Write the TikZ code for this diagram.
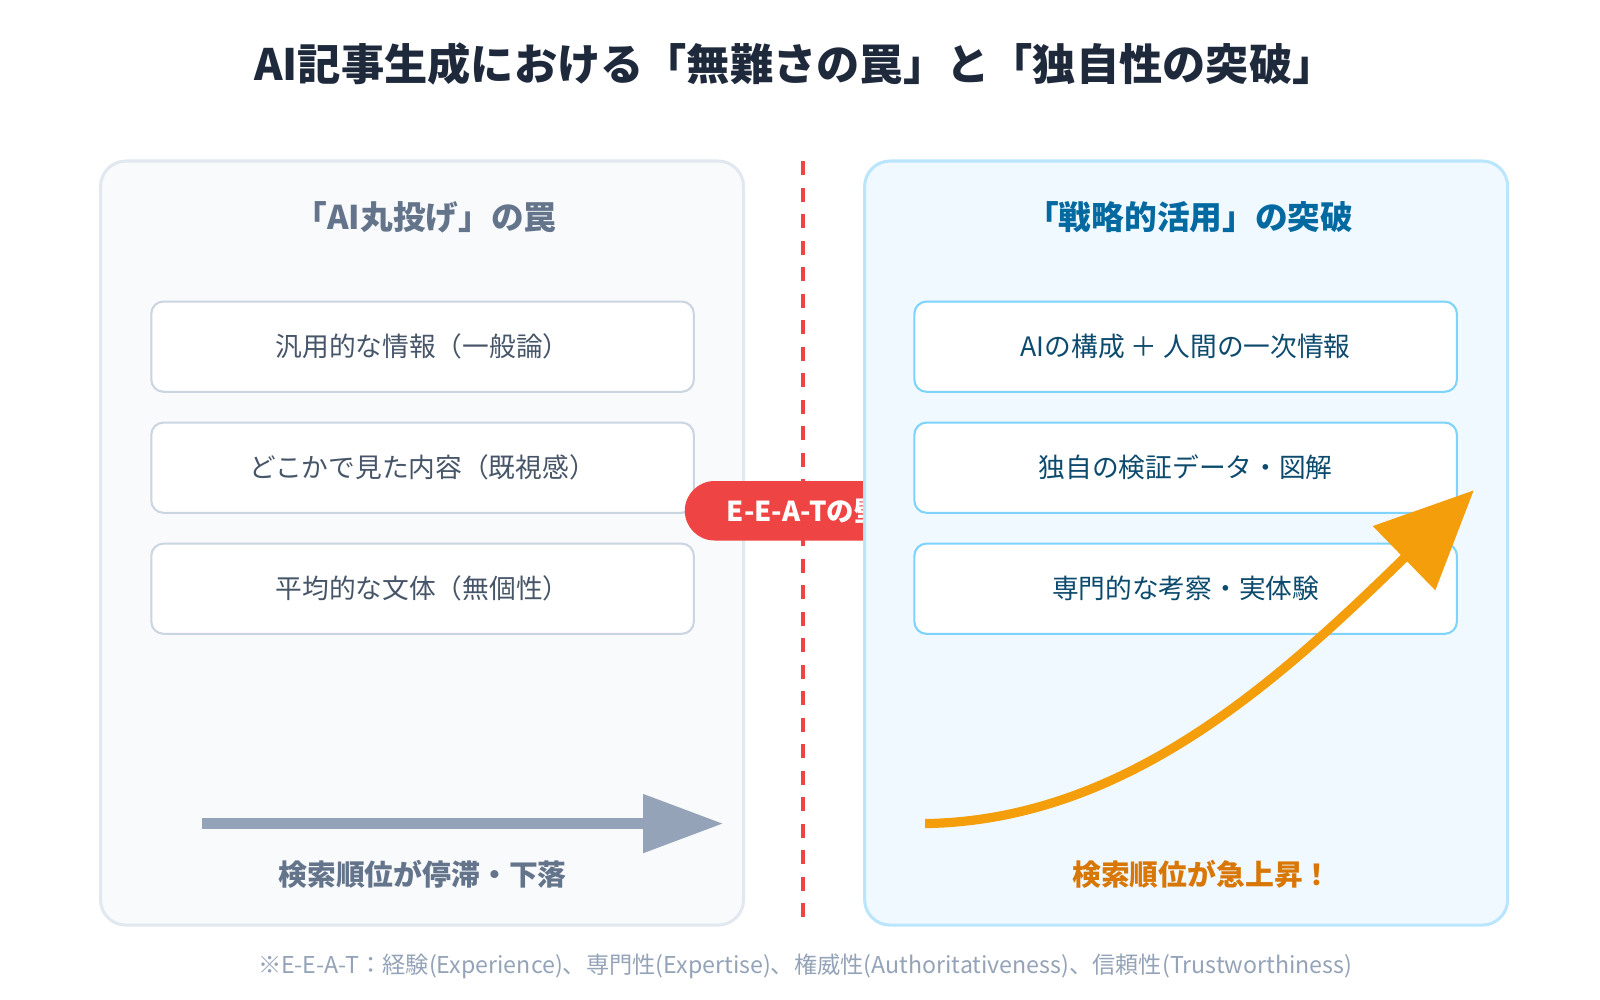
\documentclass[tikz,border=0pt]{standalone}
\usepackage{fontspec}
\setmainfont{Noto Sans CJK JP}
\usetikzlibrary{arrows.meta}
\definecolor{navy}{HTML}{1E293B}
\definecolor{slate}{HTML}{64748B}
\definecolor{slatetext}{HTML}{475569}
\definecolor{pale}{HTML}{F8FAFC}
\definecolor{paleline}{HTML}{E2E8F0}
\definecolor{boxline}{HTML}{CBD5E1}
\definecolor{skyfill}{HTML}{F0F9FF}
\definecolor{skyline}{HTML}{BAE6FD}
\definecolor{skybox}{HTML}{7DD3FC}
\definecolor{skytext}{HTML}{0C4A6E}
\definecolor{skyhead}{HTML}{0369A1}
\definecolor{wallred}{HTML}{EF4444}
\definecolor{arrowgray}{HTML}{94A3B8}
\definecolor{amber}{HTML}{F59E0B}
\definecolor{amberdark}{HTML}{D97706}
\tikzset{
  panel/.style={rounded corners=25pt*0.29, line width=3pt*0.29},
  item/.style={draw, fill=white, rounded corners=12pt*0.29, line width=2pt*0.29,
    minimum width=529*0.01026cm, minimum height=88*0.01026cm,
    font=\fontsize{7.6}{9}\selectfont},
  head/.style={font=\fontsize{9.3}{11}\selectfont\bfseries},
  caption/.style={font=\fontsize{8.2}{10}\selectfont\bfseries}
}
\begin{document}
\begin{tikzpicture}[x=0.01026cm,y=-0.01026cm]
\useasboundingbox (0,0) rectangle (1560,975);

% title
\node[text=navy, font=\fontsize{12.3}{15}\selectfont\bfseries] (title) at (775,62)
  {AI記事生成における「無難さの罠」と「独自性の突破」};

% left panel
\draw[panel, fill=pale, draw=paleline] (98,157) rectangle (725,902);
\node[head, text=slate] (lhead) at (415,212) {「AI丸投げ」の罠};
\node[item, draw=boxline, text=slatetext] (l1) at (412,338) {汎用的な情報（一般論）};
\node[item, draw=boxline, text=slatetext] (l2) at (412,456) {どこかで見た内容（既視感）};
\node[item, draw=boxline, text=slatetext] (l3) at (412,574) {平均的な文体（無個性）};
\coordinate (gs) at (197,803);
\coordinate (ge) at (705,803);
\draw[arrowgray, line width=10pt*0.29, -{Triangle[length=78*0.01026cm, width=55*0.01026cm]}] (gs) -- (ge);
\node[caption, text=slate] (lcap) at (412,852) {検索順位が停滞・下落};

% wall
\draw[wallred, line width=4pt*0.29, dash pattern=on 14pt*0.29 off 12pt*0.29] (783,157) -- (783,902);
\node[fill=wallred, text=white, rounded corners=29*0.01026cm, minimum width=234*0.01026cm,
  minimum height=58*0.01026cm, anchor=west, font=\fontsize{7.8}{9}\selectfont\bfseries,
  text width=190*0.01026cm, align=left, inner xsep=41*0.01026cm] (wall) at (667,498) {E-E-A-Tの壁};

% right panel
\draw[panel, fill=skyfill, draw=skyline] (843,157) rectangle (1470,902);
\node[head, text=skyhead] (rhead) at (1160,212) {「戦略的活用」の突破};
\node[item, draw=skybox, text=skytext] (r1) at (1156,338) {AIの構成 ＋ 人間の一次情報};
\node[item, draw=skybox, text=skytext] (r2) at (1156,456) {独自の検証データ・図解};
\node[item, draw=skybox, text=skytext] (r3) at (1156,574) {専門的な考察・実体験};
\coordinate (os) at (902,803);
\coordinate (oe) at (1437,478);
\draw[amber, line width=9pt*0.29, -{Triangle[length=95*0.01026cm, width=85*0.01026cm]}]
  (os) .. controls (1100,800) and (1250,660) .. (oe);
\node[caption, text=amberdark] (rcap) at (1172,852) {検索順位が急上昇！};

% note
\node[text=arrowgray, font=\fontsize{6.6}{8}\selectfont] (note) at (785,942)
  {※E-E-A-T：経験(Experience)、専門性(Expertise)、権威性(Authoritativeness)、信頼性(Trustworthiness)};
\end{tikzpicture}
\end{document}
